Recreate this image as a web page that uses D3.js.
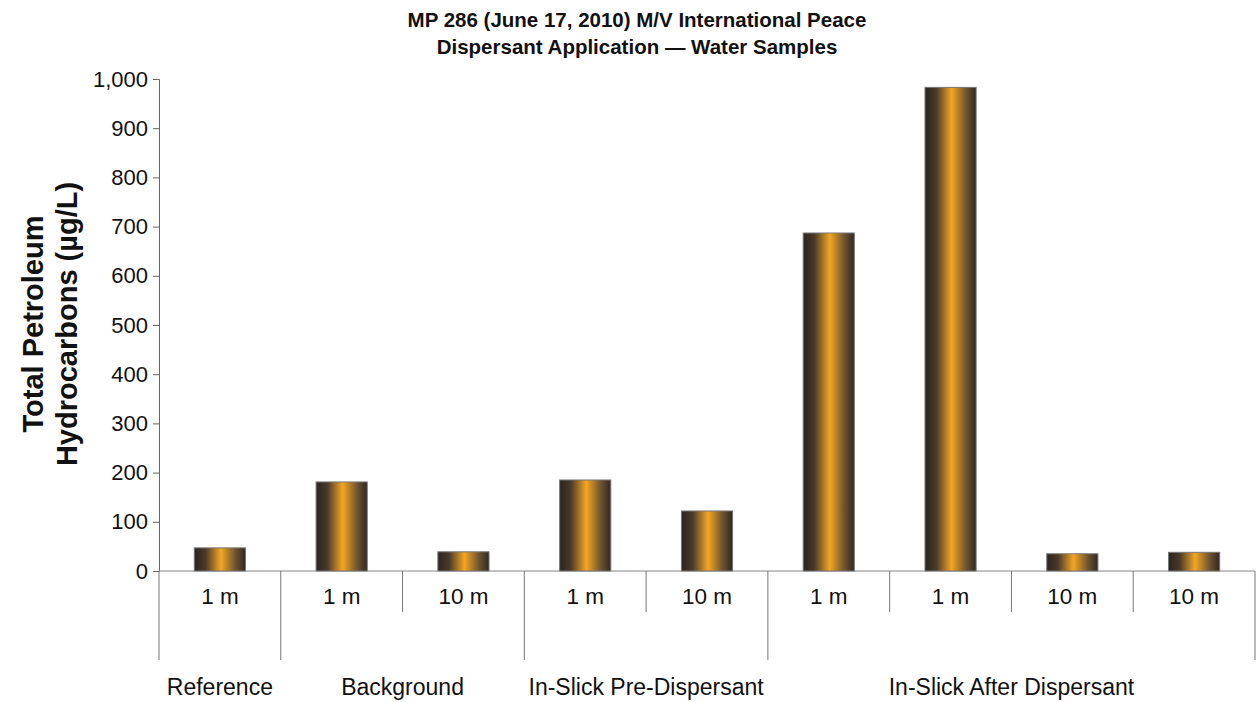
<!DOCTYPE html>
<html>
<head>
<meta charset="utf-8">
<script src="https://cdn.jsdelivr.net/npm/d3@7"></script>
<style>
  body { margin: 0; background: #fff; }
  text { font-family: "Liberation Sans", Arial, sans-serif; fill: #111; }
</style>
</head>
<body>
<div id="container"></div>
<script>
/* DATA */
const depths = ["1 m", "1 m", "10 m", "1 m", "10 m", "1 m", "1 m", "10 m", "10 m"]
const groupOf = ["Reference", "Background", "Background", "In-Slick Pre-Dispersant", "In-Slick Pre-Dispersant",
  "In-Slick After Dispersant", "In-Slick After Dispersant", "In-Slick After Dispersant", "In-Slick After Dispersant"]
const tph = [47, 181, 39, 185, 122, 687, 983, 35, 38]
const groups = ["Reference", "Background", "In-Slick Pre-Dispersant", "In-Slick After Dispersant"]
const yTicks = [0, 100, 200, 300, 400, 500, 600, 700, 800, 900, 1000]

/* CONSTANTS */
const width = 1256, height = 702
const margin = { top: 79, bottom: 131, left: 159, right: 1 }

const data = tph.map((v, i) => ({ id: i, depth: depths[i], group: groupOf[i], value: v }))

const svg = d3.select("#container").append("svg")
  .attr("width", width)
  .attr("height", height)

// gradient for the cylinder look
const grad = svg.append("defs").append("linearGradient")
  .attr("id", "barGrad")
  .attr("x1", "0%").attr("x2", "100%").attr("y1", "0%").attr("y2", "0%")
grad.append("stop").attr("offset", "0%").attr("stop-color", "#2a2420")
grad.append("stop").attr("offset", "22%").attr("stop-color", "#4a3a28")
grad.append("stop").attr("offset", "52%").attr("stop-color", "#f4a623")
grad.append("stop").attr("offset", "80%").attr("stop-color", "#6e5533")
grad.append("stop").attr("offset", "100%").attr("stop-color", "#2e2822")

// SCALES
const xScale = d3.scaleBand()
  .domain(data.map(d => d.id))
  .range([margin.left, width - margin.right])
  .paddingInner(0.58)
  .paddingOuter(0.29)

const band = (width - margin.left - margin.right) / data.length
const xEdge = i => margin.left + band * i

const yScale = d3.scaleLinear()
  .domain([0, 1000])
  .range([height - margin.bottom, margin.top])

// TITLE
const title = svg.append("text")
  .attr("text-anchor", "middle")
  .style("font-size", "20.5px")
  .style("font-weight", "bold")
title.append("tspan").attr("x", 637).attr("y", 27).text("MP 286 (June 17, 2010) M/V International Peace")
title.append("tspan").attr("x", 637).attr("y", 54).text("Dispersant Application \u2014 Water Samples")

// Y AXIS
const yAxis = d3.axisLeft(yScale)
  .tickValues(yTicks)
  .tickSize(6)
  .tickPadding(5)
  .tickFormat(d3.format(","))

const yAxisGroup = svg.append("g")
  .attr("transform", `translate(${margin.left}, 0)`)
  .call(yAxis)
yAxisGroup.select(".domain").attr("stroke", "#666")
yAxisGroup.selectAll(".tick line").attr("stroke", "#666")
yAxisGroup.selectAll(".tick text")
  .style("font-size", "22px")
  .attr("fill", "#111")

const yLabel = svg.append("text")
  .attr("transform", `translate(0, 324) rotate(-90)`)
  .attr("text-anchor", "middle")
  .style("font-size", "29px")
  .style("font-weight", "bold")
yLabel.append("tspan").attr("x", 0).attr("y", 43).text("Total Petroleum")
yLabel.append("tspan").attr("x", 0).attr("y", 77).text("Hydrocarbons (\u00b5g/L)")

// X BASELINE
const y0 = yScale(0)
svg.append("line")
  .attr("x1", margin.left).attr("x2", width - margin.right)
  .attr("y1", y0).attr("y2", y0)
  .attr("stroke", "#888")

// BARS
svg.selectAll(".bar")
  .data(data)
  .join("rect")
  .attr("class", "bar")
  .attr("x", d => xScale(d.id))
  .attr("width", xScale.bandwidth())
  .attr("y", d => yScale(d.value))
  .attr("height", d => y0 - yScale(d.value))
  .attr("fill", "url(#barGrad)")
  .attr("stroke", "#777")
  .attr("stroke-width", 1)

// CATEGORY DIVIDERS
const dividers = d3.range(data.length + 1).map(i => {
  const isGroup = i === 0 || i === data.length || groupOf[i] !== groupOf[i - 1]
  return { x: xEdge(i), long: isGroup }
})
svg.selectAll(".divider")
  .data(dividers)
  .join("line")
  .attr("class", "divider")
  .attr("x1", d => d.x).attr("x2", d => d.x)
  .attr("y1", y0)
  .attr("y2", d => d.long ? 660 : 612)
  .attr("stroke", "#777")

// DEPTH LABELS
svg.selectAll(".depth")
  .data(data)
  .join("text")
  .attr("class", "depth")
  .attr("x", d => xScale(d.id) + xScale.bandwidth() / 2)
  .attr("y", 604)
  .attr("text-anchor", "middle")
  .style("font-size", "22.5px")
  .text(d => d.depth)

// GROUP LABELS
const groupSpans = groups.map(g => {
  const idx = data.filter(d => d.group === g).map(d => d.id)
  return { name: g, x0: xEdge(d3.min(idx)), x1: xEdge(d3.max(idx) + 1) }
})
svg.selectAll(".group")
  .data(groupSpans)
  .join("text")
  .attr("class", "group")
  .attr("x", d => (d.x0 + d.x1) / 2)
  .attr("y", 695)
  .attr("text-anchor", "middle")
  .style("font-size", "23px")
  .text(d => d.name)
</script>
</body>
</html>
